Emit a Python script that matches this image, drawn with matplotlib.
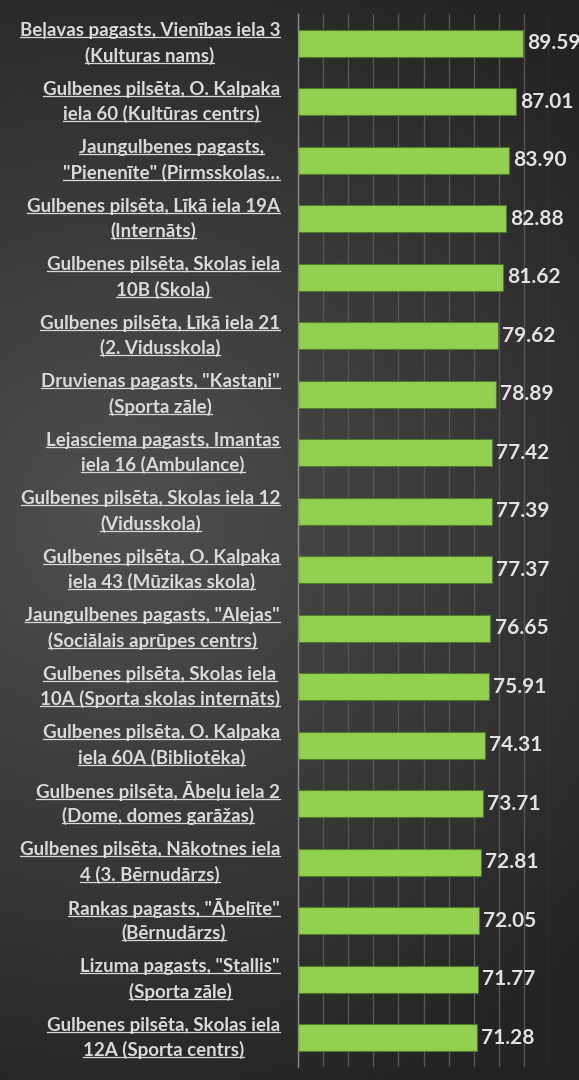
import numpy as np
import matplotlib.pyplot as plt
from matplotlib.lines import Line2D
from matplotlib import transforms

# site names (two lines each) and their values
sites = [
    "Beļavas pagasts, Vienības iela 3\n(Kulturas nams)",
    "Gulbenes pilsēta, O. Kalpaka\niela 60 (Kultūras centrs)",
    "Jaungulbenes pagasts,\n\"Pienenīte\" (Pirmsskolas…",
    "Gulbenes pilsēta, Līkā iela 19A\n(Internāts)",
    "Gulbenes pilsēta, Skolas iela\n10B (Skola)",
    "Gulbenes pilsēta, Līkā iela 21\n(2. Vidusskola)",
    "Druvienas pagasts, \"Kastaņi\"\n(Sporta zāle)",
    "Lejasciema pagasts, Imantas\niela 16 (Ambulance)",
    "Gulbenes pilsēta, Skolas iela 12\n(Vidusskola)",
    "Gulbenes pilsēta, O. Kalpaka\niela 43 (Mūzikas skola)",
    "Jaungulbenes pagasts, \"Alejas\"\n(Sociālais aprūpes centrs)",
    "Gulbenes pilsēta, Skolas iela\n10A (Sporta skolas internāts)",
    "Gulbenes pilsēta, O. Kalpaka\niela 60A (Bibliotēka)",
    "Gulbenes pilsēta, Ābeļu iela 2\n(Dome, domes garāžas)",
    "Gulbenes pilsēta, Nākotnes iela\n4 (3. Bērnudārzs)",
    "Rankas pagasts, \"Ābelīte\"\n(Bērnudārzs)",
    "Lizuma pagasts, \"Stallis\"\n(Sporta zāle)",
    "Gulbenes pilsēta, Skolas iela\n12A (Sporta centrs)",
]
values = [89.59, 87.01, 83.90, 82.88, 81.62, 79.62, 78.89, 77.42, 77.39,
          77.37, 76.65, 75.91, 74.31, 73.71, 72.81, 72.05, 71.77, 71.28]

W, H = 579, 1080
txt_col = "#d9d9d9"
plt.rcParams["font.family"] = ["Lato", "DejaVu Sans"]

fig = plt.figure(figsize=(W / 100, H / 100), dpi=100)

# dark radial background
bg = fig.add_axes([0, 0, 1, 1], zorder=-10)
yy, xx = np.mgrid[0:H, 0:W]
d = np.sqrt(((xx - 120) / 650.0) ** 2 + ((yy - 520) / 620.0) ** 2)
shade = 0x50 - (0x50 - 0x24) * np.clip(d, 0, 1)
bg.imshow(np.dstack([shade] * 3) / 255.0, aspect="auto", extent=[0, 1, 0, 1])
bg.axis("off")

left, right, top, bottom = 298, 549, 14, 1067
ax = fig.add_axes([left / W, 1 - bottom / H, (right - left) / W, (bottom - top) / H])
ax.set_facecolor("none")

ypos = np.arange(len(values))
ax.barh(ypos, values, height=0.46, color="#92d050", edgecolor="#4f7a2a",
        linewidth=0.8, zorder=3)
ax.set_xlim(0, 100)
ax.set_ylim(len(values) - 0.5, -0.5)
ax.set_xticks(np.arange(0, 101, 10))
ax.set_yticks([])
ax.tick_params(length=0, labelbottom=False)
ax.xaxis.grid(True, color="#555555", lw=1)
ax.set_axisbelow(True)
for s in ["top", "right", "bottom"]:
    ax.spines[s].set_visible(False)
ax.spines["left"].set_color("#8a8a8a")
ax.spines["left"].set_linewidth(1)
ax.spines["left"].set_zorder(4)

for i, v in enumerate(values):
    ax.annotate(f"{v:.2f}", (v, i), xytext=(3, 0), textcoords="offset points",
                ha="left", va="center", color="#e2e2e2", fontsize=15,
                fontweight="bold")

# category labels: two centred lines, block right-aligned, underlined
blend = transforms.blended_transform_factory(ax.transAxes, ax.transData)
pairs = []
for i, name in enumerate(sites):
    lines = name.split("\n")
    objs = []
    for k, ln in enumerate(lines):
        dy = 12.5 if k == 0 else -12.5
        tr = transforms.offset_copy(blend, fig=fig, x=0, y=dy, units="dots")
        t = ax.text(0, i, ln, transform=tr, ha="center", va="center",
                    color=txt_col, fontsize=13.5, fontweight="bold")
        objs.append(t)
    pairs.append(objs)

fig.canvas.draw()
r = fig.canvas.get_renderer()
label_right = 280
for objs in pairs:
    maxw = max(t.get_window_extent(r).width for t in objs)
    cx = label_right - maxw / 2
    xa = (cx - left) / (right - left)
    for t in objs:
        t.set_x(xa)

fig.canvas.draw()
inv = fig.transFigure.inverted()
for objs in pairs:
    for t in objs:
        bb = t.get_window_extent(r)
        y = bb.y0 + 2.0
        p0 = inv.transform((bb.x0, y))
        p1 = inv.transform((bb.x1, y))
        fig.add_artist(Line2D([p0[0], p1[0]], [p0[1], p1[1]], color=txt_col,
                              lw=0.9, transform=fig.transFigure))

fig.savefig("out.png", dpi=100)
